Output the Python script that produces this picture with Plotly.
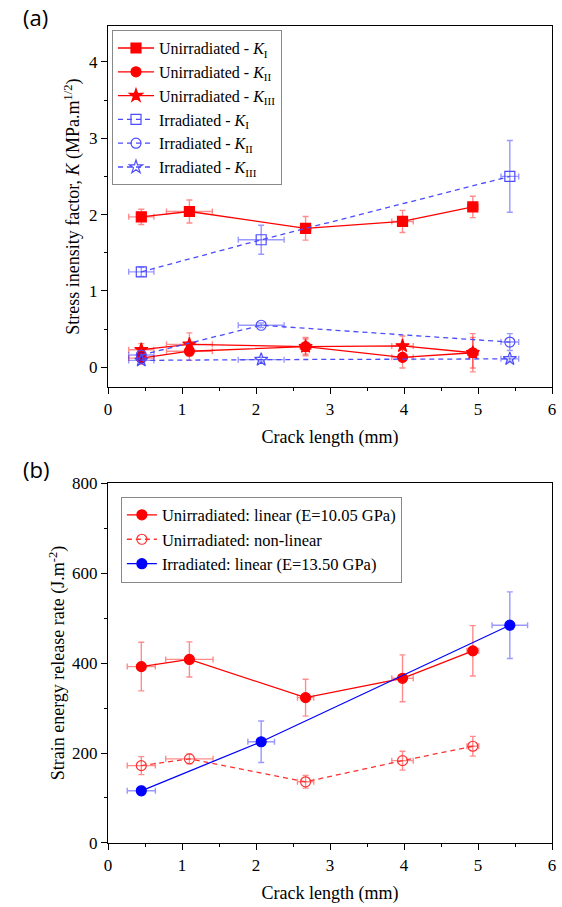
import plotly.graph_objects as go

# ---------------- data: panel (a) ----------------
crack_unirr = [0.45, 1.10, 2.67, 3.98, 4.93]
crack_unirr_err = [0.17, 0.31, 0.07, 0.145, 0.07]
crack_irr = [0.45, 2.07, 5.43]
crack_irr_err = [0.17, 0.31, 0.12]

KI_unirr = [1.97, 2.04, 1.82, 1.91, 2.10]
KI_unirr_err = [0.10, 0.15, 0.155, 0.145, 0.14]
KII_unirr = [0.12, 0.21, 0.27, 0.13, 0.19]
KII_unirr_err = [0.08, 0.12, 0.12, 0.14, 0.25]
KIII_unirr = [0.23, 0.30, 0.27, 0.28, 0.19]
KIII_unirr_err = [0.08, 0.15, 0.10, 0.13, 0.20]

KI_irr = [1.25, 1.67, 2.50]
KI_irr_err = [0.06, 0.19, 0.47]
KII_irr = [0.16, 0.55, 0.33]
KII_irr_err = [0.03, 0.03, 0.11]
KIII_irr = [0.09, 0.10, 0.11]
KIII_irr_err = [0.03, 0.03, 0.03]

# ---------------- data: panel (b) ----------------
crack_G_unirr = [0.45, 1.10, 2.67, 3.98, 4.93]
crack_G_unirr_err = [0.19, 0.32, 0.11, 0.145, 0.08]
G_lin_unirr = [392, 408, 323, 366, 427]
G_lin_unirr_err = [54, 39, 41, 52, 56]
G_nonlin_unirr = [172, 187, 136, 183, 215]
G_nonlin_unirr_err = [20, 11, 14, 21, 22]
crack_G_irr = [0.45, 2.07, 5.43]
crack_G_irr_err = [0.19, 0.18, 0.24]
G_lin_irr = [116, 225, 484]
G_lin_irr_err = [10, 46, 74]

RED = "#ff0000"
BLUE = "#0000ff"
BLUE_A = "#4b4bff"
RED_ERR = "rgba(255,0,0,0.45)"
BLUE_ERR = "rgba(0,0,255,0.4)"
SERIF = "Liberation Serif"
DASH = "5px,4px"

fig = go.Figure()


def add(x, xe, y, ye, name, color, errc, symbol, dash, xa, ya, leg, size=10):
    fig.add_trace(go.Scatter(
        x=x, y=y, name=name, mode="lines+markers",
        line=dict(color=color, width=1.3, dash=dash),
        marker=dict(symbol=symbol, size=size, color=color,
                    line=dict(color=color, width=1.2)),
        error_x=dict(type="data", array=xe, color=errc, thickness=1.4, width=3),
        error_y=dict(type="data", array=ye, color=errc, thickness=1.4, width=3),
        xaxis=xa, yaxis=ya, legend=leg,
    ))


# panel (a)
add(crack_unirr, crack_unirr_err, KI_unirr, KI_unirr_err,
    "Unirradiated - <i>K</i><sub>I</sub>", RED, RED_ERR, "square", "solid", "x", "y", "legend")
add(crack_unirr, crack_unirr_err, KII_unirr, KII_unirr_err,
    "Unirradiated - <i>K</i><sub>II</sub>", RED, RED_ERR, "circle", "solid", "x", "y", "legend")
add(crack_unirr, crack_unirr_err, KIII_unirr, KIII_unirr_err,
    "Unirradiated - <i>K</i><sub>III</sub>", RED, RED_ERR, "star", "solid", "x", "y", "legend")
add(crack_irr, crack_irr_err, KI_irr, KI_irr_err,
    "Irradiated - <i>K</i><sub>I</sub>", BLUE_A, BLUE_ERR, "square-open", DASH, "x", "y", "legend")
add(crack_irr, crack_irr_err, KII_irr, KII_irr_err,
    "Irradiated - <i>K</i><sub>II</sub>", BLUE_A, BLUE_ERR, "circle-open", DASH, "x", "y", "legend")
add(crack_irr, crack_irr_err, KIII_irr, KIII_irr_err,
    "Irradiated - <i>K</i><sub>III</sub>", BLUE_A, BLUE_ERR, "star-open", DASH, "x", "y", "legend")

# panel (b)
add(crack_G_unirr, crack_G_unirr_err, G_lin_unirr, G_lin_unirr_err,
    "Unirradiated: linear (E=10.05 GPa)", RED, RED_ERR, "circle", "solid", "x2", "y2", "legend2")
add(crack_G_unirr, crack_G_unirr_err, G_nonlin_unirr, G_nonlin_unirr_err,
    "Unirradiated: non-linear", "#ff3030", RED_ERR, "circle-open", DASH, "x2", "y2", "legend2")
add(crack_G_irr, crack_G_irr_err, G_lin_irr, G_lin_irr_err,
    "Irradiated: linear (E=13.50 GPa)", BLUE, BLUE_ERR, "circle", "solid", "x2", "y2", "legend2")

axis_common = dict(
    showline=True, linecolor="black", linewidth=1.3, mirror=True,
    ticks="outside", ticklen=6, tickwidth=1.2, tickcolor="black",
    showgrid=False, zeroline=False,
    tickfont=dict(family=SERIF, size=17, color="black"),
    minor=dict(ticks="outside", ticklen=3, tickwidth=1, tickcolor="black", showgrid=False),
)
title_font = dict(family=SERIF, size=18, color="black")

fig.update_layout(
    width=562, height=907,
    margin=dict(l=108, r=6, t=26, b=64),
    paper_bgcolor="white", plot_bgcolor="white",
    font=dict(family=SERIF, color="black"),
    xaxis=dict(**axis_common, domain=[0, 1], anchor="y", range=[0, 6], dtick=1,
               minor_dtick=0.5,
               title=dict(text="Crack length (mm)", font=title_font, standoff=12)),
    yaxis=dict(**axis_common, domain=[0.558, 1.0], anchor="x", range=[-0.26, 4.47],
               dtick=1, minor_dtick=0.5,
               title=dict(text="Stress inensity factor, <i>K</i> (MPa.m<sup>1/2</sup>)",
                          font=title_font, standoff=4)),
    xaxis2=dict(**axis_common, domain=[0, 1], anchor="y2", range=[0, 6], dtick=1,
                minor_dtick=0.5,
                title=dict(text="Crack length (mm)", font=title_font, standoff=12)),
    yaxis2=dict(**axis_common, domain=[0, 0.4406], anchor="x2", range=[0, 800],
                dtick=200, minor_dtick=100,
                title=dict(text="Strain energy release rate (J.m<sup>-2</sup>)",
                           font=title_font, standoff=2)),
    legend=dict(x=0.009, y=0.995, xanchor="left", yanchor="top",
                bordercolor="#888888", borderwidth=1, bgcolor="white",
                font=dict(family=SERIF, size=16, color="black"),
                itemwidth=36, tracegroupgap=0),
    legend2=dict(x=0.029, y=0.424, xanchor="left", yanchor="top",
                 bordercolor="#888888", borderwidth=1, bgcolor="white",
                 font=dict(family=SERIF, size=16.5, color="black"),
                 itemwidth=30, tracegroupgap=0),
    showlegend=True,
)

fig.add_annotation(text="(a)", xref="paper", yref="paper", x=-0.196, y=1.0,
                   xanchor="left", yanchor="bottom", yshift=-8, showarrow=False,
                   font=dict(family="Open Sans", size=22, color="black"))
fig.add_annotation(text="(b)", xref="paper", yref="paper", x=-0.196, y=0.4406,
                   xanchor="left", yanchor="bottom", yshift=-3, showarrow=False,
                   font=dict(family="Open Sans", size=22, color="black"))

fig.write_html("out.html")
